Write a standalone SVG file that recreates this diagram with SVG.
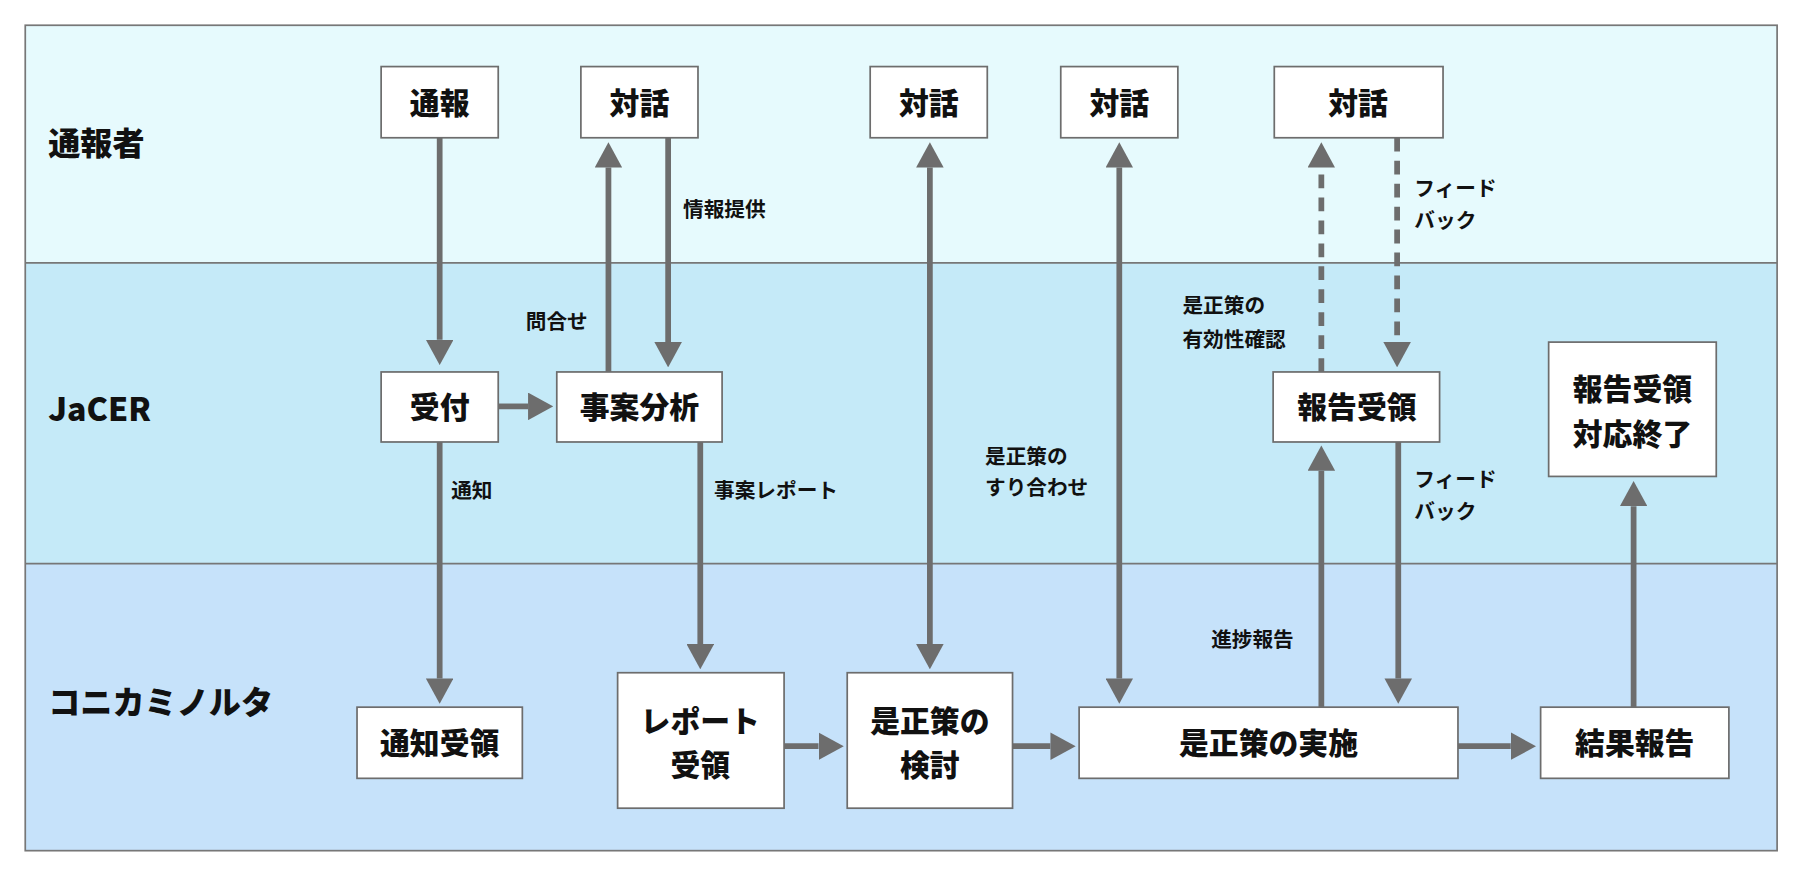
<svg xmlns="http://www.w3.org/2000/svg" width="1800" height="872" viewBox="0 0 1800 872">
<style>
.box{fill:#fff;stroke:#6d6d6d;stroke-width:1.5}
.t{font-family:"Noto Sans CJK JP","Noto Sans",sans-serif;font-weight:900;fill:#111;text-anchor:middle;font-size:26px}
.l{font-family:"Noto Sans CJK JP","Noto Sans",sans-serif;font-weight:bold;fill:#111;font-size:18px}
.ln{font-family:"Noto Sans CJK JP","Noto Sans",sans-serif;font-weight:900;fill:#111;font-size:28px}
.c{stroke:#6d6d6d;stroke-width:5;fill:none}
.d{stroke-dasharray:12 8}
</style>
<defs>
<marker id="a" markerUnits="userSpaceOnUse" viewBox="0 0 22 24" refX="0" refY="12" markerWidth="22" markerHeight="24" orient="auto-start-reverse"><path d="M0,0L22,12L0,24Z" fill="#6d6d6d"/></marker>
</defs>
<rect width="1800" height="872" fill="#fff"/>
<g transform="scale(1.148)">
<g id="lanes">
<rect x="22" y="22" width="1526" height="207" fill="#e6fafd"/>
<rect x="22" y="229" width="1526" height="262" fill="#c5eaf8"/>
<rect x="22" y="491" width="1526" height="250" fill="#c6e2fa"/>
<line x1="22" y1="229" x2="1548" y2="229" stroke="#777" stroke-width="1.5"/>
<line x1="22" y1="491" x2="1548" y2="491" stroke="#777" stroke-width="1.5"/>
<rect x="22" y="22" width="1526" height="719" fill="none" stroke="#777" stroke-width="1.5"/>
<text class="ln" x="42" y="135">通報者</text>
<text class="ln" x="42" y="367">JaCER</text>
<text class="ln" x="42" y="622">コニカミノルタ</text>
</g>
<g id="connectors">
<path class="c" d="M383,120V296" marker-end="url(#a)"/>
<path class="c" d="M383,385V591" marker-end="url(#a)"/>
<path class="c" d="M434,354H460" marker-end="url(#a)"/>
<path class="c" d="M530,324V146" marker-end="url(#a)"/>
<path class="c" d="M582,120V298" marker-end="url(#a)"/>
<path class="c" d="M610,385V561" marker-end="url(#a)"/>
<path class="c" d="M810,146V561" marker-start="url(#a)" marker-end="url(#a)"/>
<path class="c" d="M975,146V591" marker-start="url(#a)" marker-end="url(#a)"/>
<path class="c d" d="M1151,324V146" marker-end="url(#a)"/>
<path class="c d" d="M1217,120V298" marker-end="url(#a)"/>
<path class="c" d="M1151,616V410" marker-end="url(#a)"/>
<path class="c" d="M1218,385V591" marker-end="url(#a)"/>
<path class="c" d="M1423,616V441" marker-end="url(#a)"/>
<path class="c" d="M683,650H713" marker-end="url(#a)"/>
<path class="c" d="M882,650H915" marker-end="url(#a)"/>
<path class="c" d="M1270,650H1316" marker-end="url(#a)"/>
<text class="l" x="595" y="189">情報提供</text>
<text class="l" x="458" y="287">問合せ</text>
<text class="l" x="393" y="434">通知</text>
<text class="l" x="622" y="434">事案レポート</text>
<text class="l" x="858" y="404">是正策の</text>
<text class="l" x="858" y="431">すり合わせ</text>
<text class="l" x="1030" y="273">是正策の</text>
<text class="l" x="1030" y="302">有効性確認</text>
<text class="l" x="1232" y="171">フィード</text>
<text class="l" x="1232" y="199">バック</text>
<text class="l" x="1232" y="424">フィード</text>
<text class="l" x="1232" y="452">バック</text>
<text class="l" x="1055" y="564">進捗報告</text>
</g>
<g id="n1"><rect class="box" x="332" y="58" width="102" height="62"/><text class="t" x="383" y="99">通報</text></g>
<g id="n2"><rect class="box" x="506" y="58" width="102" height="62"/><text class="t" x="557" y="99">対話</text></g>
<g id="n3"><rect class="box" x="758" y="58" width="102" height="62"/><text class="t" x="809" y="99">対話</text></g>
<g id="n4"><rect class="box" x="924" y="58" width="102" height="62"/><text class="t" x="975" y="99">対話</text></g>
<g id="n5"><rect class="box" x="1110" y="58" width="147" height="62"/><text class="t" x="1183" y="99">対話</text></g>
<g id="n6"><rect class="box" x="332" y="324" width="102" height="61"/><text class="t" x="383" y="364">受付</text></g>
<g id="n7"><rect class="box" x="485" y="324" width="144" height="61"/><text class="t" x="557" y="364">事案分析</text></g>
<g id="n8"><rect class="box" x="1109" y="324" width="145" height="61"/><text class="t" x="1182" y="364">報告受領</text></g>
<g id="n9"><rect class="box" x="1349" y="298" width="146" height="117"/><text class="t" x="1422" y="348">報告受領</text><text class="t" x="1422" y="388">対応終了</text></g>
<g id="n10"><rect class="box" x="311" y="616" width="144" height="62"/><text class="t" x="383" y="657">通知受領</text></g>
<g id="n11"><rect class="box" x="538" y="586" width="145" height="118"/><text class="t" x="610" y="638">レポート</text><text class="t" x="610" y="676">受領</text></g>
<g id="n12"><rect class="box" x="738" y="586" width="144" height="118"/><text class="t" x="810" y="638">是正策の</text><text class="t" x="810" y="676">検討</text></g>
<g id="n13"><rect class="box" x="940" y="616" width="330" height="62"/><text class="t" x="1105" y="657">是正策の実施</text></g>
<g id="n14"><rect class="box" x="1342" y="616" width="164" height="62"/><text class="t" x="1424" y="657">結果報告</text></g>
</g>
</svg>
